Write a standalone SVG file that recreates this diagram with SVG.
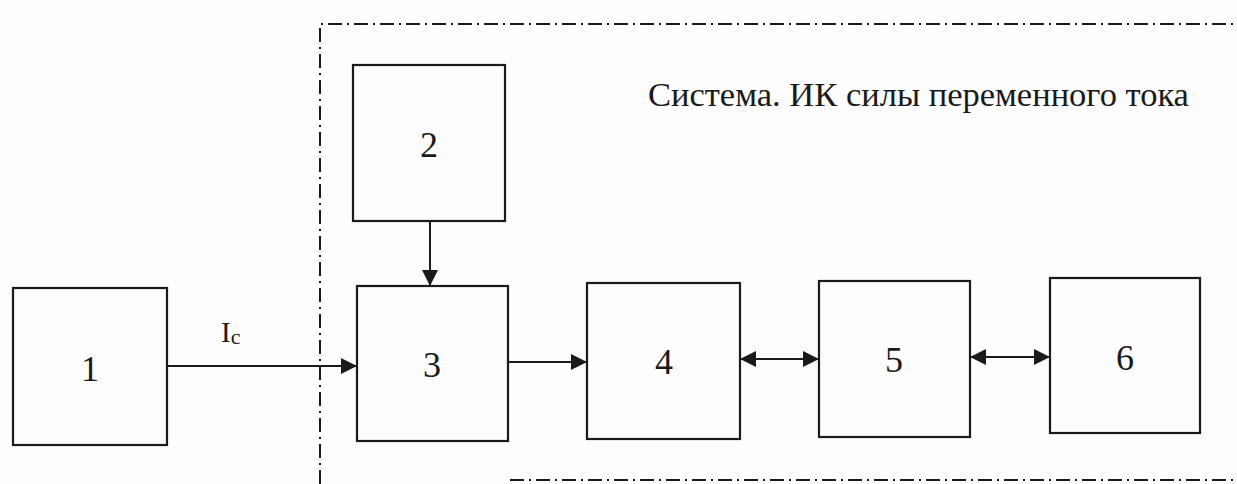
<svg xmlns="http://www.w3.org/2000/svg" width="1237" height="484" viewBox="0 0 1237 484">
<style>
.box{fill:none;stroke:#1a1a1a;stroke-width:2.2}
.num{font-family:"Liberation Serif",serif;font-size:36px;fill:#1a1a1a;text-anchor:middle}
.lbl{font-family:"Liberation Serif",serif;font-size:34.5px;fill:#1a1a1a}
.frame{fill:none;stroke:#1a1a1a;stroke-width:2;stroke-dasharray:14 5 2 5}
.conn{stroke:#1a1a1a;stroke-width:2;fill:none}
</style>
<defs>
<marker id="ah" viewBox="0 0 10 10" refX="10" refY="5" markerWidth="16" markerHeight="16" markerUnits="userSpaceOnUse" orient="auto-start-reverse">
<path d="M0,0 L10,5 L0,10 z" fill="#1a1a1a"/>
</marker>
</defs>
<rect width="1237" height="484" fill="#fdfdfd"/>
<g id="frame">
<path class="frame" d="M320,484 L320,24 L1237,24"/>
<path class="frame" d="M510,480 L1237,480"/>
<text class="lbl" x="648" y="106">Система. ИК силы переменного тока</text>
</g>
<g id="node1"><rect class="box" x="13" y="288" width="154" height="157"/><text class="num" x="90" y="381">1</text></g>
<g id="node2"><rect class="box" x="353" y="65" width="152" height="156"/><text class="num" x="429" y="157">2</text></g>
<g id="node3"><rect class="box" x="357" y="286" width="151" height="155"/><text class="num" x="432" y="377">3</text></g>
<g id="node4"><rect class="box" x="587" y="283" width="153" height="156"/><text class="num" x="664" y="374">4</text></g>
<g id="node5"><rect class="box" x="819" y="281" width="151" height="156"/><text class="num" x="894" y="372">5</text></g>
<g id="node6"><rect class="box" x="1050" y="278" width="150" height="155"/><text class="num" x="1125" y="370">6</text></g>
<g id="connectors">
<line class="conn" x1="168" y1="366" x2="357" y2="366" marker-end="url(#ah)"/>
<text x="221" y="342" font-family="Liberation Serif, serif" font-size="29" fill="#1a1a1a">I<tspan font-size="22" dy="2">c</tspan></text>
<line class="conn" x1="430" y1="221" x2="430" y2="286" marker-end="url(#ah)"/>
<line class="conn" x1="508" y1="362" x2="587" y2="362" marker-end="url(#ah)"/>
<line class="conn" x1="740" y1="359" x2="819" y2="359" marker-start="url(#ah)" marker-end="url(#ah)"/>
<line class="conn" x1="970" y1="357" x2="1050" y2="357" marker-start="url(#ah)" marker-end="url(#ah)"/>
</g>
</svg>
